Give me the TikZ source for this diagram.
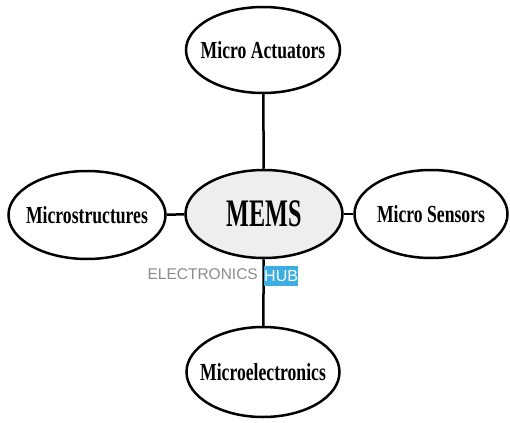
\documentclass[tikz,border=0pt]{standalone}
\usepackage{fontspec}
\usetikzlibrary{shapes.geometric}
\newfontfamily\labfont[FakeStretch=0.72]{Liberation Serif}
\newfontfamily\memsfont[FakeStretch=0.62]{Liberation Serif}
\newfontfamily\wmfont{Liberation Sans}
\definecolor{memsfill}{HTML}{EEEEEE}
\definecolor{hubblue}{HTML}{3DAEE3}
\definecolor{wmgray}{HTML}{8C8C8C}
\tikzset{
  bubble/.style={ellipse, draw=black, line width=2.5pt, fill=white, inner sep=0pt},
  labtext/.style={font=\labfont\bfseries\fontsize{24.5}{26}\selectfont, inner sep=0pt},
  conn/.style={line width=2.5pt, draw=black},
}
\begin{document}
\begin{tikzpicture}[x=1pt,y=-1pt]
\useasboundingbox (0,0) rectangle (510,422);
\fill[white] (0,0) rectangle (510,422);
\node[bubble, minimum width=154pt, minimum height=86pt,
  label={[labtext]center:Micro Actuators}] (act) at (263,50) {};
\node[bubble, minimum width=157pt, minimum height=88pt, fill=memsfill,
  label={[inner sep=0pt, font=\memsfont\bfseries\fontsize{39}{40}\selectfont]center:MEMS}] (mems) at (264,214) {};
\node[bubble, minimum width=157pt, minimum height=88pt,
  label={[labtext]center:Microstructures}] (struct) at (87,215) {};
\node[bubble, minimum width=153pt, minimum height=88pt,
  label={[labtext]center:Micro Sensors}] (sens) at (431,214) {};
\node[bubble, minimum width=153pt, minimum height=90pt,
  label={[labtext]center:Microelectronics}] (elec) at (263,372) {};
\draw[conn] (act) -- (mems);
\draw[conn] (mems) -- (elec);
\draw[conn] (struct) -- (mems);
\draw[conn] (mems) -- (sens);
% watermark
\node[anchor=east, inner sep=0pt, text=wmgray, font=\wmfont\fontsize{15.5}{16}\selectfont] (wm) at (258,274) {ELECTRONICS};
\node[anchor=west, fill=hubblue, text=white, inner sep=0pt, minimum width=33pt, minimum height=20pt, font=\wmfont\fontsize{16}{17}\selectfont] (hub) at (264,276) {HUB};
\end{tikzpicture}
\end{document}
